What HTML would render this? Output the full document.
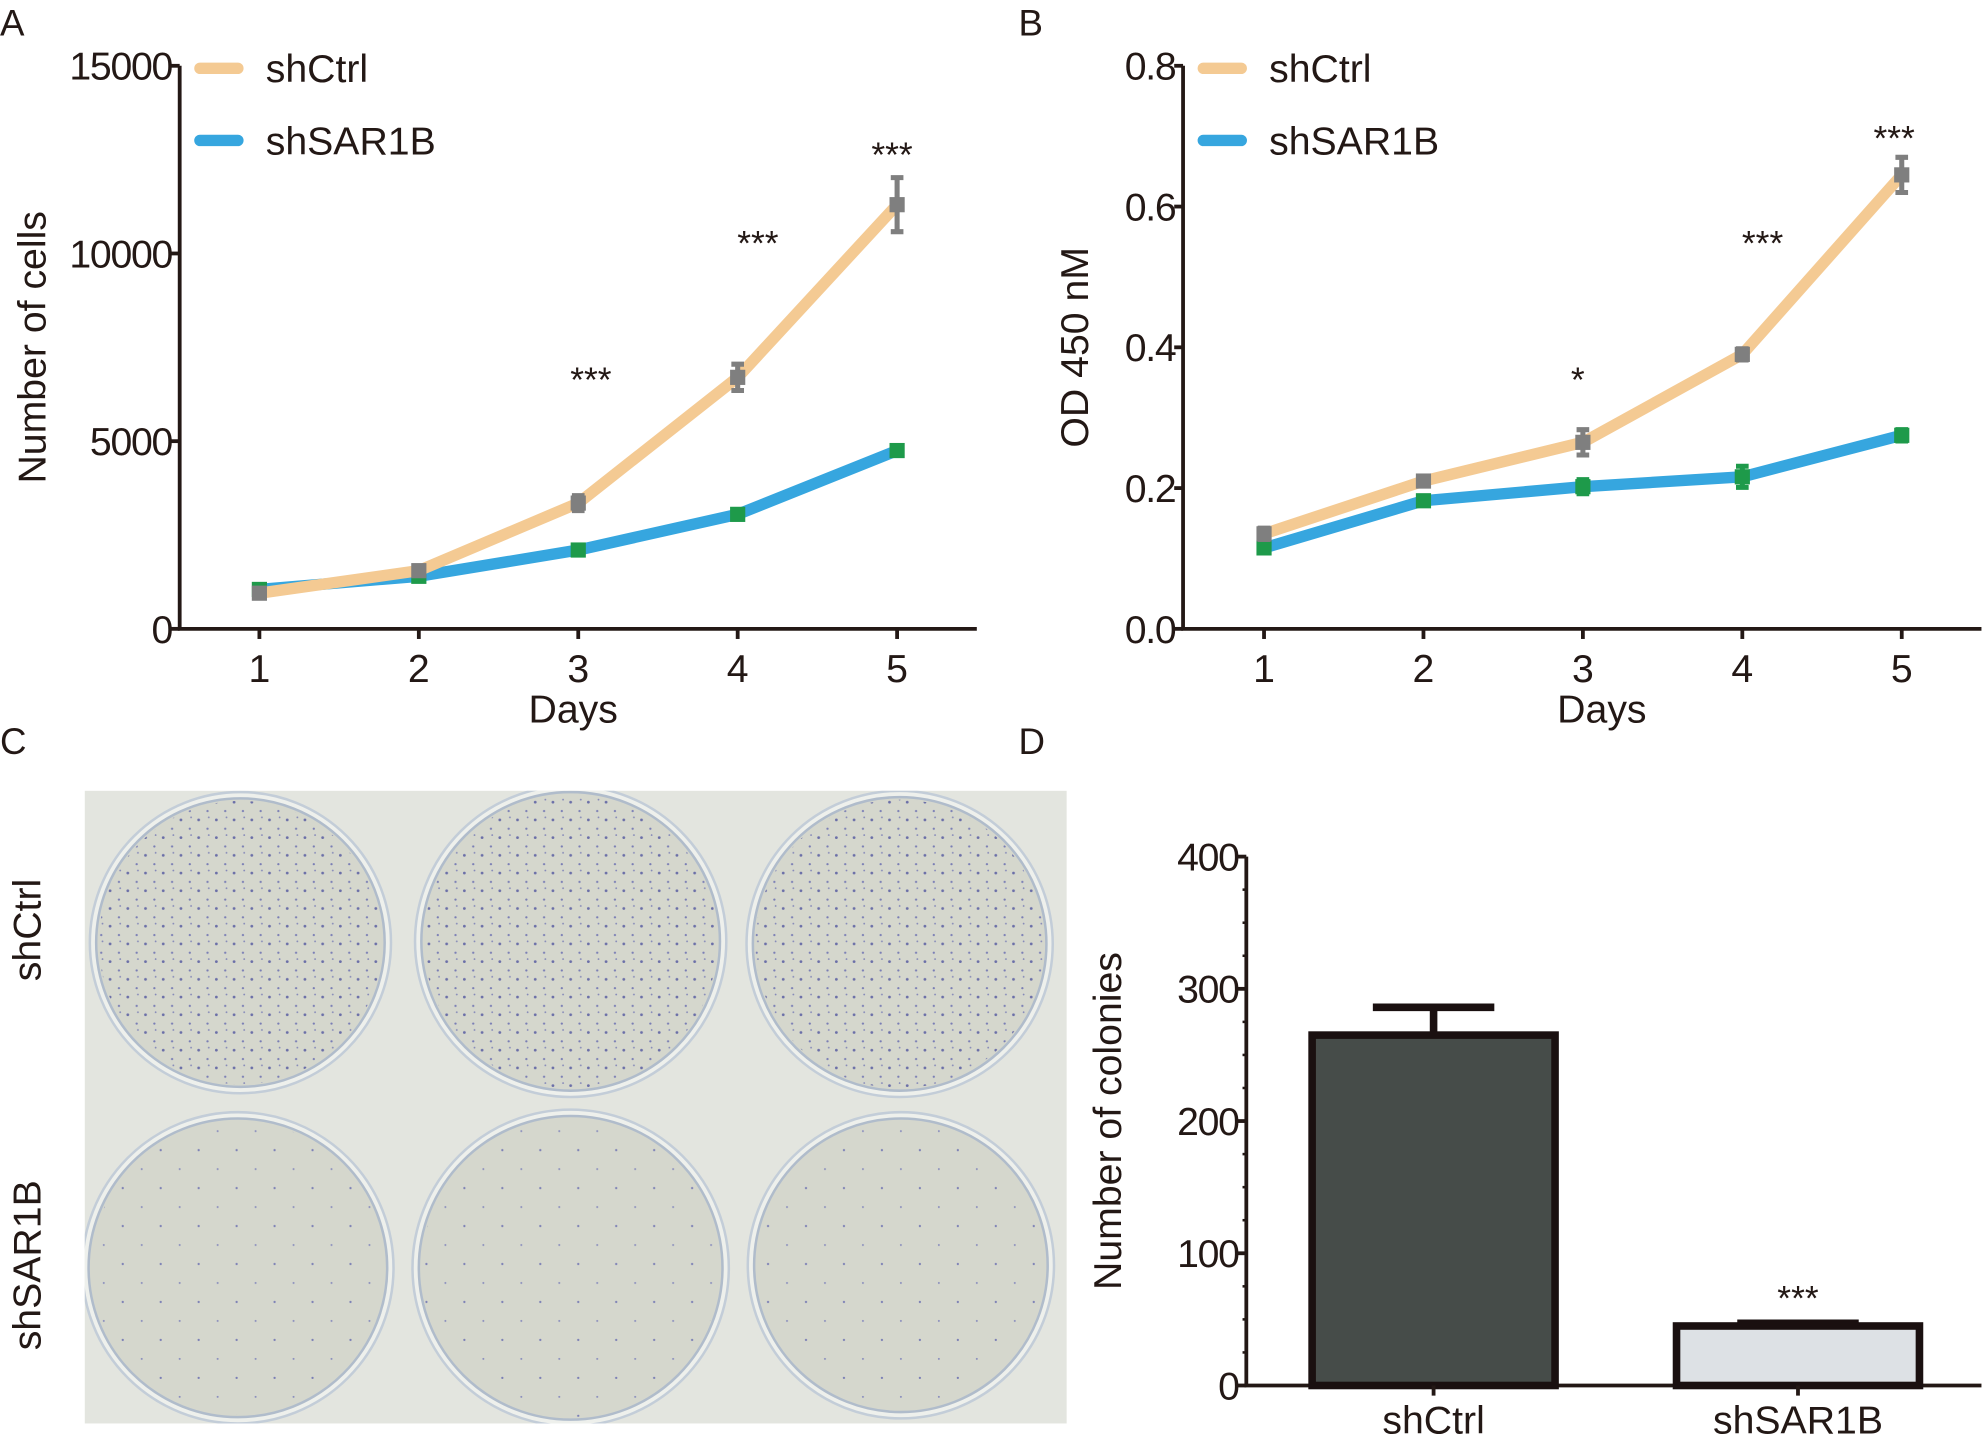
<!DOCTYPE html>
<html><head><meta charset="utf-8"><style>
html,body{margin:0;padding:0;background:#fff}
svg{display:block;font-family:"Liberation Sans",Arial,sans-serif}
</style></head><body>
<svg id="fig" width="1984" height="1448" viewBox="0 0 1568 1144.4" xmlns="http://www.w3.org/2000/svg">
<defs>
<pattern id="dotsDense" width="14" height="14" patternUnits="userSpaceOnUse">
<circle cx="3" cy="4" r="1.1" fill="#6b6fa8"/><circle cx="10" cy="11" r="0.9" fill="#7a7eb5"/><circle cx="11" cy="2" r="0.7" fill="#8488b8"/>
</pattern>
<pattern id="dotsSparse" width="30" height="30" patternUnits="userSpaceOnUse">
<circle cx="7" cy="9" r="0.9" fill="#7a7eb5"/><circle cx="22" cy="24" r="0.8" fill="#8a8ebd"/>
</pattern>
<clipPath id="photoClip"><rect x="67" y="625" width="776" height="500"/></clipPath>
</defs>
<g id="panelA"></g>
<g id="panelB"></g>
<g id="panelC"></g>
<g id="panelD"></g>
</svg>
<script>
const days = [1,2,3,4,5];
const aTicks = [0,5000,10000,15000];
const aCtrl = [950,1550,3350,6700,11300];
const aCtrlErr = [80,80,200,350,720];
const aSar = [1050,1400,2100,3050,4750];
const aSarErr = [60,60,80,80,100];
const aStars = ["","","***","***","***"];
const bTicks = [0.0,0.2,0.4,0.6,0.8];
const bCtrl = [0.135,0.21,0.265,0.39,0.645];
const bCtrlErr = [0.008,0.006,0.018,0.008,0.025];
const bSar = [0.115,0.182,0.202,0.216,0.275];
const bSarErr = [0.005,0.005,0.01,0.015,0.008];
const bStars = ["","","*","***","***"];
const dCats = ["shCtrl","shSAR1B"];
const dVals = [265,45];
const dErr = [21,2];
const dTicks = [0,100,200,300,400];
const dStars = ["","***"];

const NS="http://www.w3.org/2000/svg";
const INK="#231815";
function mk(parent,tag,attrs,text){const e=document.createElementNS(NS,tag);for(const k in attrs)e.setAttribute(k,attrs[k]);if(text!==undefined)e.textContent=text;parent.appendChild(e);return e;}
const fig=document.getElementById('fig');

function letter(x,y,t){const e=mk(fig,'text',{x:x,y:y,'font-size':29,fill:INK},t);

}
letter(0,28,'A');letter(805,28,'B');letter(0,596,'C');letter(805,596,'D');

function lineChart(g,o){
  const X=d=>o.x1+(d-1)*(o.x5-o.x1)/4;
  const Y=v=>o.y0-(v-o.tmin)/(o.tmax-o.tmin)*(o.y0-o.yTop);
  const ax=mk(g,'path',{d:`M${o.ax} ${o.yTop} V${o.y0} H${o.axEnd}`,stroke:INK,'stroke-width':3,fill:'none'});
  
  
  o.ticks.forEach(t=>{
    mk(g,'line',{x1:o.ax-7,x2:o.ax,y1:Y(t),y2:Y(t),stroke:INK,'stroke-width':3});
    const l=mk(g,'text',{x:o.ax-6,y:Y(t)+11,'font-size':31,'text-anchor':'end',fill:INK,'letter-spacing':-1},o.fmt(t));
    
    
  });
  days.forEach(d=>{
    mk(g,'line',{x1:X(d),x2:X(d),y1:o.y0,y2:o.y0+8,stroke:INK,'stroke-width':3});
    const l=mk(g,'text',{x:X(d),y:o.y0+42,'font-size':31,'text-anchor':'middle',fill:INK},String(d));
    
    
  });
  const xt=mk(g,'text',{x:o.xTitleX,y:o.y0+74,'font-size':31,'text-anchor':'middle',fill:INK},'Days');
  
  
  const yt=mk(g,'text',{x:0,y:0,'font-size':31,'text-anchor':'middle',fill:INK,transform:`translate(${o.yTitleX},${(o.yTop+o.y0)/2}) rotate(-90)`},o.yTitle);
  
  
  const series=[{v:o.sar,e:o.sarErr,c:'#36a6df',m:'#1e9a4a',n:'shsar1b'},{v:o.ctrl,e:o.ctrlErr,c:'#f4ca93',m:'#7f7f7f',n:'shctrl'}];
  series.forEach(s=>{
    const p=mk(g,'polyline',{points:days.map((d,i)=>X(d)+','+Y(s.v[i])).join(' '),stroke:s.c,'stroke-width':9,fill:'none','stroke-linejoin':'round'});
    
    
    days.forEach((d,i)=>{
      const t=Y(s.v[i]+s.e[i]),b=Y(s.v[i]-s.e[i]);
      mk(g,'path',{d:`M${X(d)} ${t} V${b} M${X(d)-5} ${t} H${X(d)+5} M${X(d)-5} ${b} H${X(d)+5}`,stroke:s.m,'stroke-width':4,fill:'none'});
      const r=mk(g,'rect',{x:X(d)-6,y:Y(s.v[i])-6,width:12,height:12,fill:s.m});
      
      
    });
  });
  o.stars.forEach((s,i)=>{ if(!s)return;
    const st=mk(g,'text',{x:X(days[i])+o.starDx[i],y:o.starY[i],'font-size':28,'text-anchor':'middle',fill:INK},s);
    
    
  });
  [['shCtrl','#f4ca93',o.yTop+2],['shSAR1B','#36a6df',o.yTop+59]].forEach(([n,c,y])=>{
    const lg=mk(g,'g',{});
    
    
    mk(lg,'line',{x1:o.ax+16,x2:o.ax+46,y1:y,y2:y,stroke:c,'stroke-width':9,'stroke-linecap':'round'});
    mk(lg,'text',{x:o.ax+68,y:y+11,'font-size':31,fill:INK},n);
  });
}
lineChart(document.getElementById('panelA'),{ax:142,axEnd:772,x1:205,x5:709,yTop:52,y0:497,tmin:0,tmax:15000,ticks:aTicks,fmt:t=>String(t),
  ctrl:aCtrl,ctrlErr:aCtrlErr,sar:aSar,sarErr:aSarErr,stars:aStars,starY:[0,0,310,202,132],starDx:[0,0,10,16,-4],yTitle:'Number of cells',yTitleX:36,xTitleX:453});
lineChart(document.getElementById('panelB'),{ax:935,axEnd:1566,x1:999,x5:1503,yTop:52,y0:497,tmin:0,tmax:0.8,ticks:bTicks,fmt:t=>t.toFixed(1),
  ctrl:bCtrl,ctrlErr:bCtrlErr,sar:bSar,sarErr:bSarErr,stars:bStars,starY:[0,0,310,202,119],starDx:[0,0,-4,16,-6],yTitle:'OD 450 nM',yTitleX:860,xTitleX:1266});

(function(){
  const g=document.getElementById('panelC');
  const bg=mk(g,'rect',{x:67,y:625,width:776,height:500,fill:'#e3e5df'});
  
  
  const clip=mk(g,'g',{'clip-path':'url(#photoClip)'});
  const dishes=[[190,745,114,'dotsDense'],[451,744,118,'dotsDense'],[711,746,116,'dotsDense'],[188,1002,118,'dotsSparse'],[451,1002,120,'dotsSparse'],[712,1000,116,'dotsSparse']];
  dishes.forEach(([cx,cy,r,p],i)=>{
    const dg=mk(clip,'g',{});
    
    
    mk(dg,'circle',{cx,cy,r:r+5,fill:'#eef0ec',stroke:'#c3cdd8','stroke-width':2});
    mk(dg,'circle',{cx,cy,r,fill:'#d5d7cd',stroke:'#b0bccb','stroke-width':2});
    mk(dg,'circle',{cx,cy,r:r-2,fill:`url(#${p})`});
  });
  [['shCtrl',735],['shSAR1B',1000]].forEach(([t,y])=>{
    const l=mk(g,'text',{x:0,y:0,'font-size':31,'text-anchor':'middle',fill:INK,transform:`translate(32,${y}) rotate(-90)`},t);
    
    
  });
})();

(function(){
  const g=document.getElementById('panelD');
  const ax=985,y0=1095,yTop=677,axEnd=1566,vmax=400;
  const Y=v=>y0-v/vmax*(y0-yTop);
  const centers=[1133,1421],bw=192;
  const a=mk(g,'path',{d:`M${ax} ${yTop} V${y0} H${axEnd}`,stroke:INK,'stroke-width':3,fill:'none'});
  
  
  for(let v=0;v<=vmax;v+=25){mk(g,'line',{x1:ax-(v%100?3:7),x2:ax,y1:Y(v),y2:Y(v),stroke:INK,'stroke-width':v%100?2:3});}
  dTicks.forEach(t=>{const l=mk(g,'text',{x:ax-6,y:Y(t)+11,'font-size':31,'text-anchor':'end',fill:INK,'letter-spacing':-1},String(t));
    
    });
  const fills=['#464c49','#dde1e5'];
  dCats.forEach((c,i)=>{
    const cx=centers[i];
    mk(g,'path',{d:`M${cx} ${Y(dVals[i])} V${Y(dVals[i]+dErr[i])} M${cx-48} ${Y(dVals[i]+dErr[i])} H${cx+48}`,stroke:'#1a1010','stroke-width':6,fill:'none'});
    const r=mk(g,'rect',{x:cx-bw/2,y:Y(dVals[i]),width:bw,height:y0-Y(dVals[i]),fill:fills[i],stroke:'#1a1010','stroke-width':6});
    
    
    mk(g,'line',{x1:cx,x2:cx,y1:y0,y2:y0+8,stroke:INK,'stroke-width':3});
    const l=mk(g,'text',{x:cx,y:y0+38,'font-size':31,'text-anchor':'middle',fill:INK},c);
    
    
    if(dStars[i]){const s=mk(g,'text',{x:cx,y:Y(dVals[i]+dErr[i])-10,'font-size':28,'text-anchor':'middle',fill:INK},dStars[i]);
      
      }
  });
  const yt=mk(g,'text',{x:0,y:0,'font-size':31,'text-anchor':'middle',fill:INK,transform:`translate(886,${(yTop+y0)/2}) rotate(-90)`},'Number of colonies');
  
  
})();
</script>
</body></html>
